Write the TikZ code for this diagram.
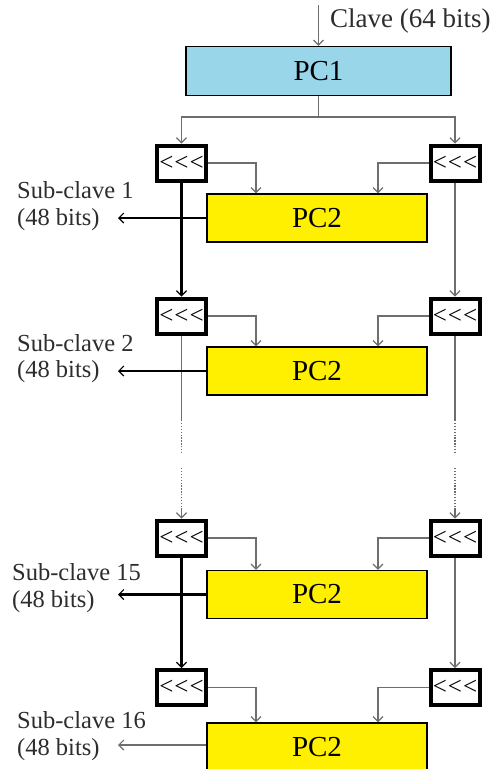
\documentclass[tikz,border=0pt]{standalone}
\usepackage{fontspec}
\setmainfont{Liberation Serif}
\usetikzlibrary{arrows.meta}
\definecolor{pcblue}{RGB}{153,214,234}
\definecolor{pcyellow}{RGB}{255,240,0}
\definecolor{linegray}{RGB}{110,110,110}
\definecolor{textgray}{RGB}{45,45,45}
\newcommand{\rotl}{<\kern1pt<\kern1pt<}

\begin{document}
\begin{tikzpicture}[x=1pt,y=-1pt,>={Straight Barb[length=5pt,width=10pt,line width=1.2pt]}]
  \tikzset{pc box/.style={draw, line width=1.2pt, inner sep=0pt,
      font=\fontsize{29}{29}\selectfont, minimum width=#1},
    shift box/.style={draw, line width=4pt, fill=white, minimum width=49pt,
      minimum height=35pt, inner sep=0pt, font=\fontsize{25}{25}\selectfont},
    thin line/.style={linegray, line width=1.4pt},
    thick line/.style={black, line width=2.6pt},
    dot line/.style={linegray, line width=1.4pt, dash pattern=on 1.3pt off 1.6pt},
    sub label/.style={anchor=west, inner sep=0pt, text=textgray,
      font=\fontsize{24.5}{24.5}\selectfont}
  }
  \useasboundingbox (0,0) rectangle (503,769);

  % key and PC1
  \coordinate (clave) at (318.5,5);
  \node [sub label, font=\fontsize{27}{27}\selectfont] (clavetxt) at (330,21) {Clave (64 bits)};
  \node [pc box=265pt, minimum height=49pt, fill=pcblue] (pc1) at (318.5,71) {PC1};
  \coordinate (split) at (318.5,117);
  \draw [thin line, ->] (clave) -- (pc1.north);

  % round 1
  \node [shift box] (l1) at (181.5,163) {\rotl};
  \node [shift box] (r1) at (455,163) {\rotl};
  \node [pc box=220pt, minimum height=48pt, fill=pcyellow] (p1) at (317,218) {PC2};
  \coordinate (s1) at (118,218);
  \node [sub label] (t1a) at (17,190) {Sub-clave 1};
  \node [sub label] (t1b) at (17,220) {(48 bits)};

  % round 2
  \node [shift box] (l2) at (181.5,316) {\rotl};
  \node [shift box] (r2) at (455,316) {\rotl};
  \node [pc box=220pt, minimum height=48pt, fill=pcyellow] (p2) at (317,371) {PC2};
  \coordinate (s2) at (118,371);
  \node [sub label] (t2a) at (17,343) {Sub-clave 2};
  \node [sub label] (t2b) at (17,372) {(48 bits)};

  % round 15
  \node [shift box] (l15) at (181.5,538) {\rotl};
  \node [shift box] (r15) at (455,538) {\rotl};
  \node [pc box=220pt, minimum height=48pt, fill=pcyellow] (p15) at (317,594.5) {PC2};
  \coordinate (s15) at (118,594.5);
  \node [sub label] (t15a) at (12,572) {Sub-clave 15};
  \node [sub label] (t15b) at (12,602) {(48 bits)};

  % round 16
  \node [shift box] (l16) at (181.5,687.5) {\rotl};
  \node [shift box] (r16) at (455,687.5) {\rotl};
  \node [pc box=220pt, minimum height=48pt, fill=pcyellow] (p16) at (317,747) {PC2};
  \coordinate (s16) at (118,745);
  \node [sub label] (t16a) at (17,720) {Sub-clave 16};
  \node [sub label] (t16b) at (17,750) {(48 bits)};

  % gaps
  \coordinate (ld1) at (181.5,420);
  \coordinate (ld2) at (181.5,452);
  \coordinate (ld3) at (181.5,468);
  \coordinate (ld4) at (181.5,508);
  \coordinate (rd1) at (455,420);
  \coordinate (rd2) at (455,452);
  \coordinate (rd3) at (455,468);
  \coordinate (rd4) at (455,508);

  \draw [thin line] (pc1.south) -- (split);
  \draw [thin line, ->] (split) -| (l1.north);
  \draw [thin line, ->] (split) -| (r1.north);

  \draw [thick line, ->] (l1.south) -- (l2.north);
  \draw [thin line, ->] (r1.south) -- (r2.north);
  \draw [thin line] (l2.south) -- (ld1);
  \draw [thin line] (r2.south) -- (rd1);
  \draw [dot line] (ld1) -- (ld2);
  \draw [dot line] (rd1) -- (rd2);
  \draw [dot line] (ld3) -- (ld4);
  \draw [dot line] (rd3) -- (rd4);
  \draw [thin line, ->] (ld4) -- (l15.north);
  \draw [thin line, ->] (rd4) -- (r15.north);
  \draw [thick line, ->] (l15.south) -- (l16.north);
  \draw [thin line, ->] (r15.south) -- (r16.north);

  \foreach \r in {1,2,15,16} {
    \draw [thin line, ->] (l\r.east) -| ([xshift=-61pt]p\r.north);
    \draw [thin line, ->] (r\r.west) -| ([xshift=61pt]p\r.north);
  }
  \draw [thick line, ->] (p1.west) -- (s1);
  \draw [thick line, ->] (p2.west) -- (s2);
  \draw [thick line, ->] (p15.west) -- (s15);
  \draw [thin line, ->] (p16.west |- s16) -- (s16);
\end{tikzpicture}
\end{document}
